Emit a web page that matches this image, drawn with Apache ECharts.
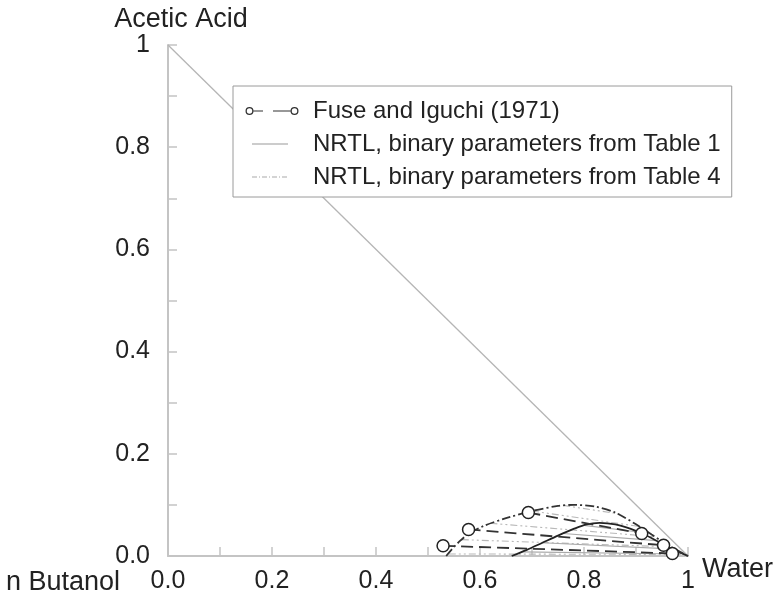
<!DOCTYPE html>
<html>
<head>
<meta charset="utf-8">
<script src="https://cdn.jsdelivr.net/npm/echarts@6/dist/echarts.min.js"></script>
<style>
html,body{margin:0;padding:0;background:#fff;}
#chart{width:782px;height:606px;}
</style>
</head>
<body>
<div id="chart"></div>
<script>
// ---- data ----
const xTicks = [0, 0.2, 0.4, 0.6, 0.8, 1];
const yTicks = [0, 0.2, 0.4, 0.6, 0.8, 1];
const hypotenuse = [[0, 1], [1, 0]];

// experimental tie lines (Fuse and Iguchi 1971): organic end -> aqueous end
const expOrganic = [[0.529, 0.020], [0.578, 0.052], [0.693, 0.085]];
const expAqueous = [[0.970, 0.005], [0.953, 0.021], [0.911, 0.044]];

// NRTL Table 1: binodal and tie lines
const t1Binodal = [[0.661, 0.0], [0.69, 0.012], [0.72, 0.026], [0.75, 0.040], [0.78, 0.053], [0.805, 0.062],
  [0.83, 0.065], [0.86, 0.062], [0.89, 0.053], [0.92, 0.040], [0.95, 0.024], [0.975, 0.011], [1.0, 0.0]];
const t1TieLeft = [[0.68, 0.008], [0.72, 0.026], [0.76, 0.044], [0.80, 0.060]];
const t1TieRight = [[0.985, 0.004], [0.965, 0.014], [0.94, 0.030], [0.905, 0.047]];

// NRTL Table 4: binodal and tie lines
const t4Binodal = [[0.535, 0.0], [0.545, 0.012], [0.56, 0.028], [0.58, 0.045], [0.61, 0.060], [0.65, 0.074],
  [0.70, 0.088], [0.75, 0.098], [0.78, 0.100], [0.82, 0.097], [0.86, 0.085], [0.90, 0.062], [0.93, 0.042],
  [0.96, 0.022], [0.985, 0.008], [1.0, 0.0]];
const t4TieLeft = [[0.54, 0.004], [0.565, 0.032], [0.62, 0.064], [0.70, 0.088], [0.76, 0.099]];
const t4TieRight = [[0.99, 0.003], [0.965, 0.018], [0.935, 0.038], [0.905, 0.058], [0.87, 0.082]];

const nameExp = 'Fuse and Iguchi (1971)';
const nameT1 = 'NRTL, binary parameters from Table 1';
const nameT4 = 'NRTL, binary parameters from Table 4';

// ---- chart ----
const FONT = 'Liberation Sans, Arial, sans-serif';
const chart = echarts.init(document.getElementById('chart'), null, {renderer: 'canvas'});

const dashDot = [9, 3, 2, 3];
const series = [];

series.push({
  name: 'hyp', type: 'line', data: hypotenuse, symbol: 'none', silent: true,
  itemStyle: {color: '#b5b5b5'},
  lineStyle: {color: '#b5b5b5', width: 1.3}, z: 1
});

t4TieLeft.forEach((p, i) => series.push({
  name: nameT4, type: 'line', data: [p, t4TieRight[i]], symbol: 'none', silent: true,
  itemStyle: {color: '#b8b8b8'},
  lineStyle: {color: '#b8b8b8', width: 1.1, type: [7, 3, 2, 3, 2, 3]}, z: 2
}));
t1TieLeft.forEach((p, i) => series.push({
  name: nameT1, type: 'line', data: [p, t1TieRight[i]], symbol: 'none', silent: true,
  itemStyle: {color: '#aaaaaa'},
  lineStyle: {color: '#aaaaaa', width: 1.1}, z: 2
}));
series.push({
  name: 't1b', type: 'line', data: t1Binodal, symbol: 'none', smooth: 0.3, silent: true,
  itemStyle: {color: '#222'},
  lineStyle: {color: '#222', width: 1.8}, z: 3
});
series.push({
  name: 't4b', type: 'line', data: t4Binodal, symbol: 'none', smooth: 0.3, silent: true,
  itemStyle: {color: '#333'},
  lineStyle: {color: '#333', width: 1.8, type: dashDot}, z: 3
});
expOrganic.forEach((p, i) => series.push({
  name: nameExp, type: 'line', data: [p, expAqueous[i]], symbol: 'circle', symbolSize: 12,
  itemStyle: {color: '#fff', borderColor: '#222', borderWidth: 1.5},
  lineStyle: {color: '#333', width: 1.8, type: [12, 6]}, z: 4, silent: true
}));

const labelFmt = (v) => {
  const k = Math.round(v * 10);
  if (k === 10) return '1';
  return k % 2 === 0 ? (k / 10).toFixed(1) : '';
};

const axisCommon = {
  type: 'value', min: 0, max: 1, interval: 0.1,
  splitLine: {show: false},
  axisLine: {show: true, onZero: false, lineStyle: {color: '#c4c4c4', width: 2}},
  axisTick: {show: true, inside: true, length: 9, lineStyle: {color: '#c4c4c4', width: 1.5}},
  axisLabel: {formatter: labelFmt, color: '#222', fontSize: 25, fontFamily: FONT}
};

// legend icons (54 x 12 boxes)
const anchor = 'M0 0M54 12';
const ring = (cx) => `M${cx - 4} 6A4 4 0 1 1 ${cx + 4} 6A4 4 0 1 1 ${cx - 4} 6Z` +
  `M${cx - 2.7} 6A2.7 2.7 0 1 0 ${cx + 2.7} 6A2.7 2.7 0 1 0 ${cx - 2.7} 6Z`;
const iconExp = 'path://' + anchor + ring(4.5) + 'M8.5 5.4H18V6.6H8.5Z' + 'M28 5.4H45.5V6.6H28Z' + ring(49.5);
const iconT1 = 'path://' + anchor + 'M7 5.5H43V6.5H7Z';
const iconT4 = 'path://' + anchor + 'M7 5.5H12V6.5H7Z M14 5.5H15V6.5H14Z M17 5.5H22V6.5H17Z M24 5.5H25V6.5H24Z' +
  'M27 5.5H32V6.5H27Z M34 5.5H35V6.5H34Z M37 5.5H42V6.5H37Z';

chart.setOption({
  animation: false,
  backgroundColor: '#fff',
  grid: {left: 168, right: 94, top: 45, bottom: 50, containLabel: false},
  xAxis: Object.assign({}, axisCommon, {
    name: 'Water', nameLocation: 'end', nameGap: 14,
    nameTextStyle: {color: '#222', fontSize: 27, fontFamily: FONT, verticalAlign: 'top'},
    axisLabel: Object.assign({}, axisCommon.axisLabel, {margin: 13})
  }),
  yAxis: Object.assign({}, axisCommon, {
    name: 'Acetic Acid', nameLocation: 'end', nameGap: 10,
    nameTextStyle: {color: '#222', fontSize: 27, fontFamily: FONT, padding: [0, 0, 0, 26]},
    axisLabel: Object.assign({}, axisCommon.axisLabel, {margin: 18})
  }),
  legend: {
    orient: 'vertical', left: 233, top: 86,
    padding: [13, 11, 8, 12], itemGap: 9, itemWidth: 54, itemHeight: 12,
    symbolKeepAspect: true,
    backgroundColor: '#fff', borderColor: '#9a9a9a', borderWidth: 1,
    textStyle: {color: '#222', fontSize: 24, fontFamily: FONT, padding: [0, 0, 0, 9]},
    data: [
      {name: nameExp, icon: iconExp, itemStyle: {color: '#333', borderWidth: 0}},
      {name: nameT1, icon: iconT1, itemStyle: {color: '#9a9a9a', borderWidth: 0}},
      {name: nameT4, icon: iconT4, itemStyle: {color: '#aaaaaa', borderWidth: 0}}
    ]
  },
  graphic: [{
    type: 'text', left: 6, top: 569,
    style: {text: 'n Butanol', fill: '#222', font: '27px ' + FONT}
  }],
  series: series
});
</script>
</body>
</html>
